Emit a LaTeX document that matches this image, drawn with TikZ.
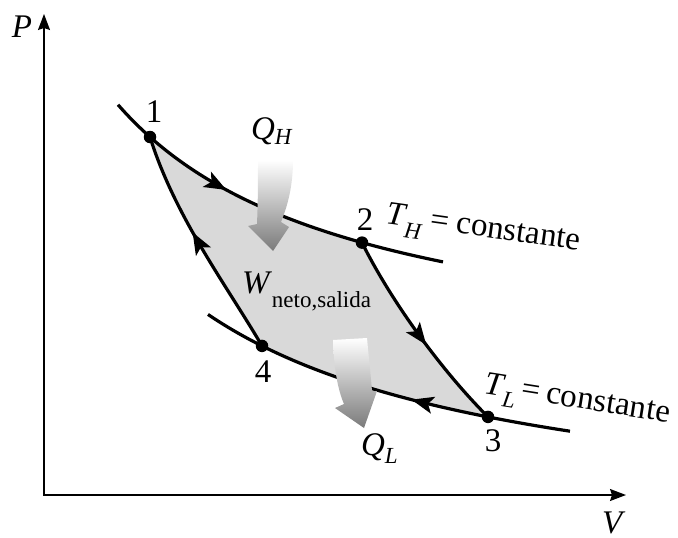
\documentclass[tikz,border=0pt]{standalone}
\usepackage{fontspec}
\setmainfont{Liberation Serif}
\usetikzlibrary{arrows.meta,decorations.markings}
\newcommand{\sbs}[2]{\raisebox{#1}{\fontsize{23}{23}\selectfont #2}}
\tikzset{
  ctip/.tip={Stealth[length=22pt,width=17pt,inset=5pt]},
  axtip/.tip={Stealth[length=16pt,width=12pt,inset=2pt]}}
\begin{document}
\begin{tikzpicture}[x=1pt,y=-1pt,
  font=\fontsize{33}{36}\selectfont,
  txt/.style={inner sep=0pt, outer sep=0pt},
  curve/.style={line width=3.2pt, line join=round},
  axis/.style={line width=1.4pt},
  dot/.style={circle, fill=black, inner sep=0pt, minimum size=12.5pt},
  mk/.style={postaction=decorate, decoration={markings,
    mark=at position #1 with {\arrow{ctip}}}},
  regionfill/.style={fill=black!15},
  qshade/.style={top color=white, bottom color=black!52, draw=none}]
\useasboundingbox (0,0) rectangle (678,538);

% axes
\coordinate (Ptop) at (44,14);
\coordinate (O) at (44,495);
\coordinate (Vend) at (626,495);
\draw[axis, axtip-axtip] (Ptop) -- (O) -- (Vend);
\node[txt, anchor=base west] (lP) at (12,37) {\textit{P}};
\node[txt, anchor=base west] (lV) at (602,533) {\textit{V}};

% state points
\coordinate (c1) at (150,137);
\coordinate (c2) at (362,242.6);
\coordinate (c3) at (488,416.9);
\coordinate (c4) at (262,345.9);

% cycle area
\fill[regionfill] (c1) -- plot[domain=150:362, samples=50] (\x, {377-648/((\x+120)/100)})
  .. controls (392,303) and (443,372) .. (c3)
  -- plot[domain=488:262, samples=50] (\x, {537-730/((\x+120)/100)})
  .. controls (227,286) and (175,217) .. (c1) -- cycle;

% isotherms
\draw[curve] plot[domain=118:150, samples=10] (\x, {377-648/((\x+120)/100)});
\draw[curve, mk=0.39] plot[domain=150:362, samples=50] (\x, {377-648/((\x+120)/100)});
\draw[curve] plot[domain=362:443, samples=20] (\x, {377-648/((\x+120)/100)});
\draw[curve] plot[domain=208:262, samples=15] (\x, {537-730/((\x+120)/100)});
\draw[curve, mk=0.33] plot[domain=488:262, samples=50] (\x, {537-730/((\x+120)/100)});
\draw[curve] plot[domain=488:570, samples=20] (\x, {537-730/((\x+120)/100)});

% adiabats
\draw[curve, mk=0.56] (c2) .. controls (392,303) and (443,372) .. (c3);
\draw[curve, mk=0.56] (c4) .. controls (227,286) and (175,217) .. (c1);

% dots
\node[dot] (p1) at (c1) {};
\node[dot] (p2) at (c2) {};
\node[dot] (p3) at (c3) {};
\node[dot] (p4) at (c4) {};

% heat arrows
\shade[qshade] (258,160) -- (293,160) .. controls (293,185) and (288,205) .. (281,222)
  -- (289,227) -- (273,251) -- (248,226) -- (257,224)
  .. controls (258,200) and (258,180) .. (258,160) -- cycle;
\shade[qshade] (333,340) -- (367,338) .. controls (369,360) and (371,378) .. (372,391)
  -- (377,391) -- (364,428) -- (335,408) -- (344,404)
  .. controls (338,390) and (334,370) .. (333,340) -- cycle;

% labels
\node[txt] (l1) at (154,112) {1};
\node[txt] (l2) at (365,220) {2};
\node[txt] (l3) at (493,441) {3};
\node[txt] (l4) at (263,372) {4};
\node[txt, anchor=base west] (lQH) at (251,139) {\textit{Q}\sbs{-5pt}{\textit{H}}};
\node[txt, anchor=base west] (lQL) at (361,455) {\textit{Q}\sbs{-8pt}{\textit{L}}};
\node[txt, anchor=base west] (lW) at (242,293) {\textit{W}\sbs{-14pt}{neto,salida}};
\node[txt, anchor=base west, rotate=-8] (lTH) at (385,223)
  {\textit{T}\sbs{-12pt}{\textit{H}}\hspace{0.2em}=\hspace{0.25em}constante};
\node[txt, anchor=base west, rotate=-9] (lTL) at (483,393)
  {\textit{T}\sbs{-10pt}{\textit{L}}\hspace{0.15em}=\hspace{0.2em}constante};
\end{tikzpicture}
\end{document}
